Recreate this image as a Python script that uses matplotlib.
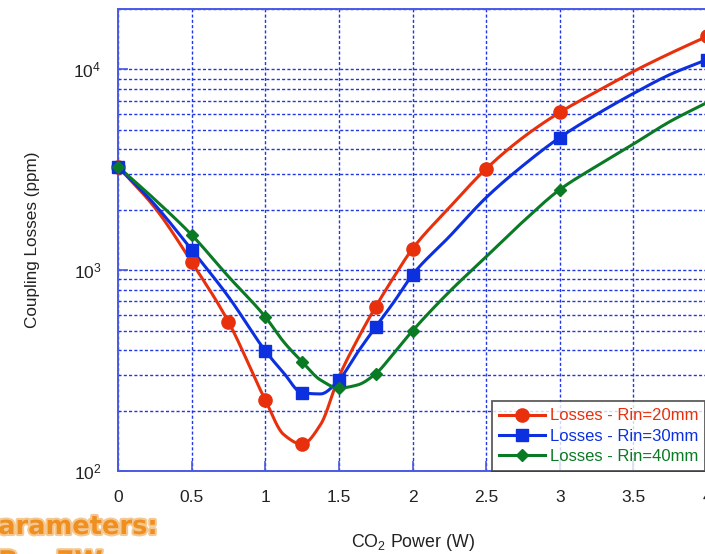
import numpy as np
import matplotlib
matplotlib.use("Agg")
import matplotlib.pyplot as plt
from matplotlib.lines import Line2D
from matplotlib.ticker import LogLocator, NullFormatter, FixedLocator
import matplotlib.patheffects as pe

plt.rcParams['font.family'] = ['Liberation Sans', 'DejaVu Sans']
plt.rcParams['mathtext.fontset'] = 'custom'
plt.rcParams['mathtext.rm'] = 'Liberation Sans'
plt.rcParams['mathtext.it'] = 'Liberation Sans:italic'

# ---- data ----
power = [0, 0.25, 0.5, 0.75, 1.0, 1.125, 1.25, 1.375, 1.5, 1.625, 1.75, 1.875,
         2.0, 2.25, 2.5, 2.75, 3.0, 3.25, 3.5, 3.75, 4.0]
loss_rin20 = [3280, 2050, 1100, 553, 226, 152, 136, 170, 294, 450, 658, 929,
              1279, 2050, 3200, 4580, 6110, 7760, 9770, 12030, 14600]
loss_rin30 = [3280, 2120, 1265, 738, 397, 308, 245, 242, 284, 388, 522, 697,
              950, 1470, 2300, 3320, 4580, 5970, 7590, 9440, 11200]
loss_rin40 = [3280, 2250, 1500, 930, 586, 440, 350, 284, 259, 268, 305, 388,
              499, 781, 1167, 1745, 2520, 3300, 4250, 5510, 6840]
markers_rin20 = [0, 0.5, 0.75, 1.0, 1.25, 1.75, 2.0, 2.5, 3.0, 4.0]
markers_rin30 = [0, 0.5, 1.0, 1.25, 1.5, 1.75, 2.0, 3.0, 4.0]
markers_rin40 = [0, 0.5, 1.0, 1.25, 1.5, 1.75, 2.0, 3.0]
labels = ['Losses - Rin=20mm', 'Losses - Rin=30mm', 'Losses - Rin=40mm']
xtick_labels = ['0', '0.5', '1', '1.5', '2', '2.5', '3', '3.5', '4']


def pchip(x, y, xn):
    x = np.asarray(x, float); y = np.asarray(y, float)
    h = np.diff(x); d = np.diff(y) / h
    m = np.zeros_like(y)
    for k in range(1, len(x) - 1):
        if d[k - 1] * d[k] > 0:
            w1 = 2 * h[k] + h[k - 1]; w2 = h[k] + 2 * h[k - 1]
            m[k] = (w1 + w2) / (w1 / d[k - 1] + w2 / d[k])
    m[0] = d[0]; m[-1] = d[-1]
    idx = np.clip(np.searchsorted(x, xn) - 1, 0, len(x) - 2)
    t = (xn - x[idx]) / h[idx]
    h00 = 2 * t**3 - 3 * t**2 + 1; h10 = t**3 - 2 * t**2 + t
    h01 = -2 * t**3 + 3 * t**2; h11 = t**3 - t**2
    return h00 * y[idx] + h10 * h[idx] * m[idx] + h01 * y[idx + 1] + h11 * h[idx] * m[idx + 1]


fig = plt.figure(figsize=(7.05, 5.54), dpi=100)
ax = fig.add_axes([118 / 705, 83 / 554, 589 / 705, 462 / 554])

series = [
    (loss_rin20, markers_rin20, '#e8300c', 'o', 9.5),
    (loss_rin30, markers_rin30, '#0c2fe0', 's', 9.0),
    (loss_rin40, markers_rin40, '#0b7a24', 'D', 6.5),
]
xd = np.linspace(0, 4, 600)
handles = []
for (vals, mk, col, m, ms), lab in zip(series, labels):
    yd = 10 ** pchip(power, np.log10(vals), xd)
    ax.plot(xd, yd, color=col, lw=2.2, zorder=3, solid_capstyle='round')
    mv = [vals[power.index(v)] for v in mk]
    ax.plot(mk, mv, linestyle='none', marker=m, ms=ms, color=col, mec=col, zorder=4,
            clip_on=False)
    handles.append(Line2D([], [], color=col, lw=2.2, marker=m, ms=ms, mec=col))

ax.set_yscale('log')
ax.set_xlim(0, 4)
ax.set_ylim(100, 20000)
ax.xaxis.set_major_locator(FixedLocator(np.arange(0, 4.01, 0.5)))
ax.set_xticklabels(xtick_labels)
ax.yaxis.set_major_locator(FixedLocator([100, 1000, 10000]))
ax.set_yticklabels([r'$10^{2}$', r'$10^{3}$', r'$10^{4}$'])
ax.yaxis.set_minor_locator(LogLocator(base=10, subs=np.arange(2, 10)))
ax.yaxis.set_minor_formatter(NullFormatter())

gcol = '#1f35e6'
ax.grid(True, which='major', axis='both', color=gcol, ls=(0, (2.2, 1.6)), lw=1.0, zorder=1)
ax.grid(True, which='minor', axis='y', color=gcol, ls=(0, (2.2, 1.6)), lw=1.0, zorder=1)
ax.set_axisbelow(True)

for s in ax.spines.values():
    s.set_color('#4a5ae6')
    s.set_linewidth(1.4)
ax.tick_params(axis='both', which='major', direction='in', length=7, width=1.2,
               color='#4a5ae6', labelsize=12.5, labelcolor='#222222')
ax.tick_params(axis='x', pad=14)
ax.tick_params(axis='y', pad=12)
ax.tick_params(axis='y', which='minor', length=0)

ax.set_ylabel('Coupling Losses (ppm)', fontsize=12.3, color='#222222')
ax.yaxis.set_label_coords(-(118 - 40) / 589, 0.5)
ax.set_xlabel(r'CO$_2$ Power (W)', fontsize=12.8, color='#222222')
ax.xaxis.set_label_coords(0.5, -(532 - 471) / 462)

leg = ax.legend(handles, labels, loc='lower left', bbox_to_anchor=((492 - 118) / 589, 0.0),
                borderaxespad=0, fontsize=12, labelcolor='linecolor', frameon=True,
                fancybox=False, handlelength=2.75, handletextpad=0.3, borderpad=0.42,
                labelspacing=0.32)
leg.get_frame().set_edgecolor('#333333')
leg.get_frame().set_linewidth(1.3)
leg.set_zorder(10)

eff = [pe.Stroke(linewidth=3, foreground='#f3c892'), pe.Normal()]
fig.text(158 / 705, (554 - 534) / 554, 'Parameters:', ha='right', va='baseline',
         fontsize=18.5, fontweight='bold', family='DejaVu Sans', color='#ef8f1f',
         path_effects=eff)
fig.text(103 / 705, (554 - 569) / 554, 'P = 7W', ha='right', va='baseline',
         fontsize=18.5, fontweight='bold', family='DejaVu Sans', color='#ef8f1f',
         path_effects=eff)

fig.savefig('out.png', dpi=100)
